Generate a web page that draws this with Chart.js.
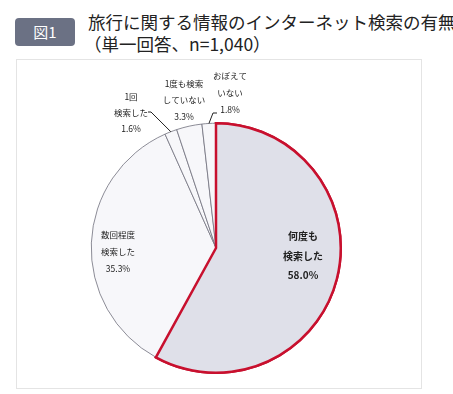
<!DOCTYPE html>
<html>
<head>
<meta charset="utf-8">
<script src="https://cdn.jsdelivr.net/npm/chart.js@4"></script>
<style>
  body { margin: 0; background: #fff; font-family: "Noto Sans CJK JP", sans-serif; }
  #wrap { position: relative; width: 453px; height: 394px; overflow: hidden; }
  #badge { position: absolute; left: 15px; top: 18px; width: 60px; height: 28px; border-radius: 4px;
           background: #6b7184; color: #fff; font-size: 15px; line-height: 28px; text-align: center; }
  #title { position: absolute; left: 88px; top: 11px; font-size: 17.5px; line-height: 22px; color: #222; white-space: nowrap; }
  #frame { position: absolute; left: 16px; top: 59px; width: 404px; height: 328px; border: 1px solid #e4e4e4; }
  canvas { position: absolute; left: 0; top: 0; }
</style>
</head>
<body>
<div id="wrap">
  <div id="badge">図1</div>
  <div id="title">旅行に関する情報のインターネット検索の有無<br><span style="margin-left:-4px">（単一回答、n=1,040）</span></div>
  <div id="frame"></div>
  <canvas id="pie" width="453" height="394"></canvas>
</div>
<script>
document.addEventListener('DOMContentLoaded', function() {
  // categories (label lines) and shares in %
  const categories = [
    ['何度も', '検索した'],
    ['数回程度', '検索した'],
    ['1回', '検索した'],
    ['1度も検索', 'していない'],
    ['おぼえて', 'いない']
  ];
  const values = [58.0, 35.3, 1.6, 3.3, 1.8];

  const labelPlugin = {
    id: 'sliceLabels',
    afterDatasetsDraw(chart, args, opts) {
      const ctx = chart.ctx;
      const arcs = chart.getDatasetMeta(0).data;
      arcs[0].draw(ctx); // keep the red outline on top
      const cx = arcs[0].x, cy = arcs[0].y;
      ctx.save();
      ctx.fillStyle = '#222';
      ctx.strokeStyle = '#222';
      ctx.textAlign = 'center';
      ctx.textBaseline = 'middle';
      opts.spots.forEach((s, i) => {
        const lines = categories[i].concat(values[i].toFixed(1) + '%');
        ctx.font = (s.bold ? 'bold ' : '') + s.size + 'px "Noto Sans CJK JP", sans-serif';
        const y0 = cy + s.dy - s.gap * (lines.length - 1) / 2;
        lines.forEach((t, k) => ctx.fillText(t, cx + s.dx, y0 + k * s.gap));
        if (s.leader) {
          const a = arcs[i];
          const mid = (a.startAngle + a.endAngle) / 2;
          ctx.lineWidth = 1;
          ctx.beginPath();
          ctx.moveTo(cx + a.outerRadius * Math.cos(mid), cy + a.outerRadius * Math.sin(mid));
          ctx.lineTo(cx + s.leader[0], cy + s.leader[1]);
          ctx.lineTo(cx + s.leader[2], cy + s.leader[1]);
          ctx.stroke();
        }
      });
      ctx.restore();
    }
  };

  new Chart(document.getElementById('pie').getContext('2d'), {
    type: 'pie',
    data: {
      labels: categories.map(c => c.join('')),
      datasets: [{
        data: values,
        backgroundColor: ['#dfe0e9', '#f7f7fa', '#f7f7fa', '#f7f7fa', '#f7f7fa'],
        borderColor: ['#c8102e', '#70707c', '#70707c', '#70707c', '#70707c'],
        borderWidth: [2.5, 0.8, 0.8, 0.8, 0.8],
        borderJoinStyle: 'miter',
        hoverOffset: 0
      }]
    },
    options: {
      responsive: false,
      animation: false,
      events: [],
      layout: { padding: { left: 90, top: 122, right: 111, bottom: 20 } },
      plugins: {
        legend: { display: false },
        tooltip: { enabled: false },
        sliceLabels: {
          spots: [
            { dx: 87, dy: 8, size: 10, bold: true, gap: 19.5 },
            { dx: -98, dy: 4, size: 8.5, gap: 17 },
            { dx: -85, dy: -135, size: 8.5, gap: 16, leader: [-65, -136, -68] },
            { dx: -32, dy: -148, size: 8.5, gap: 16.5 },
            { dx: 14, dy: -155, size: 8.5, gap: 17, leader: [-3, -135, 1] }
          ]
        }
      }
    },
    plugins: [labelPlugin]
  });
});
</script>
</body>
</html>
